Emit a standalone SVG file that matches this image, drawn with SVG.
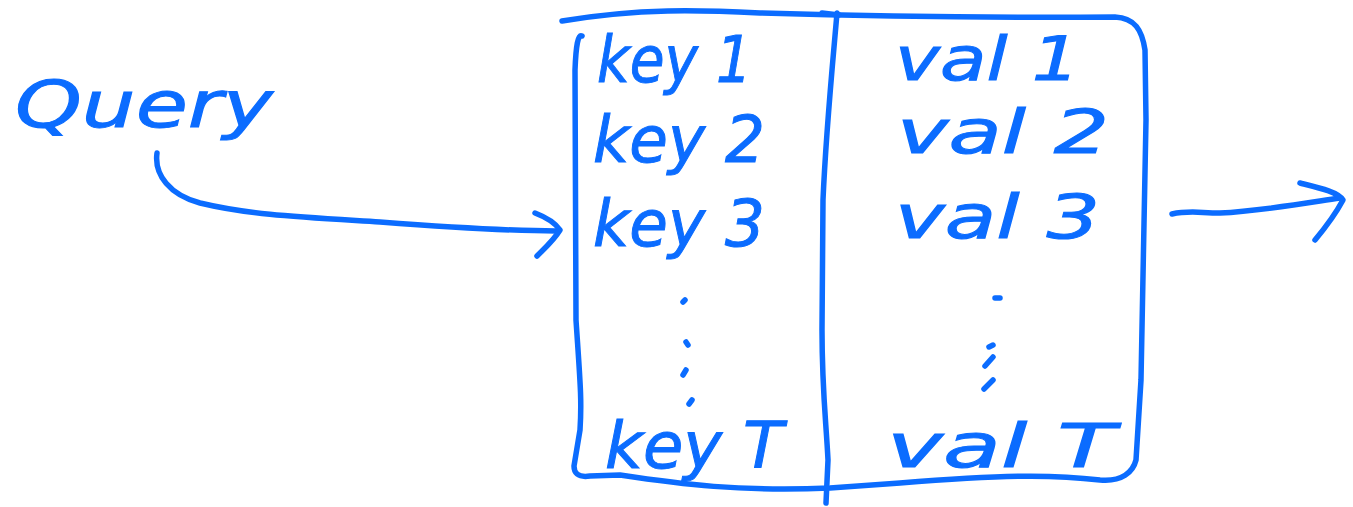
<svg xmlns="http://www.w3.org/2000/svg" width="1353" height="507" viewBox="0 0 1353 507">
<style>
.s{fill:none;stroke:#0b6cff;stroke-width:5.5;stroke-linecap:round;stroke-linejoin:round}
.t{fill:#0b6cff;stroke:#0b6cff;stroke-width:1;font-family:"DejaVu Sans","Liberation Sans",sans-serif;font-style:italic;font-size:64px}
.v{font-size:60px}
</style>
<rect width="1353" height="507" fill="#ffffff"/>
<g id="query"><text class="t" x="15" y="127" textLength="258" lengthAdjust="spacingAndGlyphs">Query</text></g>
<g id="table">
<path class="s" d="M562,21 C640,8 700,10 760,13 C900,17 1000,18 1115,17 C1135,18 1142,30 1145,50 L1146,120 L1141,380 L1136,460 C1133,472 1122,482 1100,480 C1050,474 1000,475 900,483 L830,488 C740,492 680,484 620,475 L590,476 C577,478 574,472 574,466 L580,430 C582,400 580,380 576,320 L575,70 C576,45 578,34 582,36"/>
<path class="s" d="M837,13 C833,60 826,130 823,200 L822,330 C822,390 826,420 828,460 L826,503"/>
<path class="s" d="M822,13 L839,15"/>
<path class="s" d="M683,302 L685,300 M686,342 L688,345 M683,375 L686,370 M689,404 L692,400"/>
<path class="s" d="M995,298 L1000,298 M989,347 L993,345 M985,366 L993,357 M984,389 L993,380"/>
</g>
<g id="keys">
<text class="t" x="597" y="82" textLength="155" lengthAdjust="spacingAndGlyphs">key 1</text>
<text class="t" x="593" y="162" textLength="172" lengthAdjust="spacingAndGlyphs">key 2</text>
<text class="t" x="593" y="246" textLength="172" lengthAdjust="spacingAndGlyphs">key 3</text>
<text class="t" x="605" y="468" textLength="178" lengthAdjust="spacingAndGlyphs">key T</text>
</g>
<g id="vals">
<text class="t v" x="895" y="80" textLength="185" lengthAdjust="spacingAndGlyphs">val 1</text>
<text class="t v" x="897" y="153" textLength="212" lengthAdjust="spacingAndGlyphs">val 2</text>
<text class="t v" x="895" y="238" textLength="205" lengthAdjust="spacingAndGlyphs">val 3</text>
<text class="t v" x="887" y="467" textLength="228" lengthAdjust="spacingAndGlyphs">val T</text>
</g>
<g id="connectors">
<path class="s" d="M157,153 C154,175 170,195 200,203 C250,215 300,217 380,222 C460,228 520,231 556,231"/>
<path class="s" d="M535,213 C548,218 556,224 560,230 C554,240 545,248 537,256"/>
<path class="s" d="M1172,214 C1190,210 1200,213 1220,213 C1260,211 1300,204 1340,198"/>
<path class="s" d="M1300,183 C1320,188 1338,192 1343,200 C1335,215 1325,228 1315,240"/>
</g>
</svg>
